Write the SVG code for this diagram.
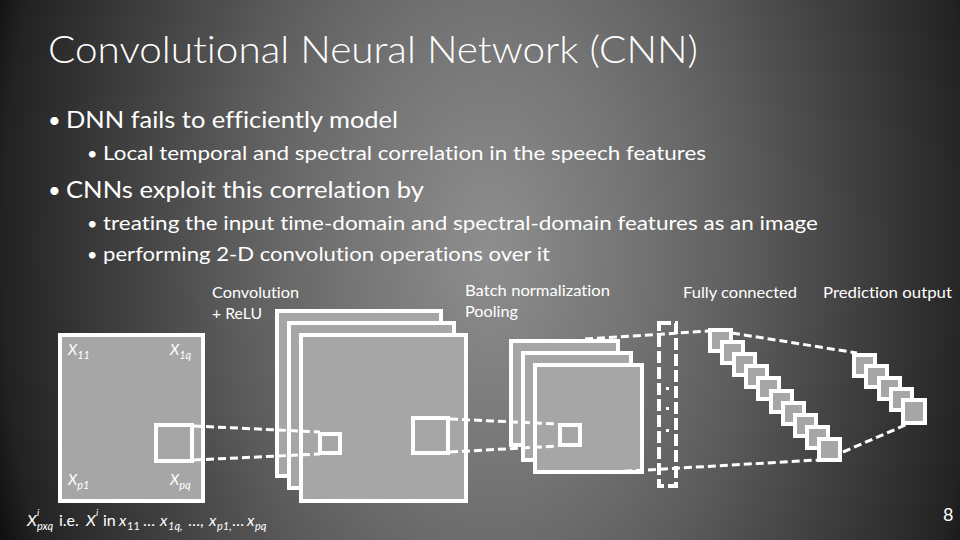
<svg xmlns="http://www.w3.org/2000/svg" width="960" height="540" viewBox="0 0 960 540">
<defs>
<radialGradient id="bg" gradientUnits="userSpaceOnUse" cx="0" cy="0" r="520" gradientTransform="translate(490 250) scale(1 1.6)">
<stop offset="0" stop-color="#8e8e8e"/>
<stop offset="0.3" stop-color="#727272"/>
<stop offset="0.48" stop-color="#5e5e5e"/>
<stop offset="0.63" stop-color="#4a4a4a"/>
<stop offset="0.81" stop-color="#333333"/>
<stop offset="0.94" stop-color="#222222"/>
<stop offset="1" stop-color="#101010"/>
</radialGradient>
<style>
.t{font-family:Lato,"Liberation Sans",sans-serif;fill:#ffffff;font-variant-ligatures:none}
.it{font-style:italic}
.box{fill:#a6a6a6;stroke:#ffffff;stroke-width:4}
.node{fill:#a6a6a6;stroke:#ffffff;stroke-width:4}
.dash{fill:none;stroke:#ffffff;stroke-width:3;stroke-dasharray:8 4}
.vdash{fill:none;stroke:#ffffff;stroke-width:4;stroke-dasharray:12 4}
</style>
</defs>
<rect x="0" y="0" width="960" height="540" fill="url(#bg)"/>

<g id="title">
<text class="t" x="48" y="63" font-size="38" font-weight="300" textLength="650" lengthAdjust="spacingAndGlyphs">Convolutional Neural Network (CNN)</text>
</g>
<g id="bullets">
<text class="t" x="48" y="128" font-size="22">•</text>
<text class="t" x="66" y="128" font-size="23" textLength="332" lengthAdjust="spacingAndGlyphs">DNN fails to efficiently model</text>
<text class="t" x="87" y="160" font-size="18">•</text>
<text class="t" x="103" y="160" font-size="19" textLength="603" lengthAdjust="spacingAndGlyphs">Local temporal and spectral correlation in the speech features</text>
<text class="t" x="48" y="198" font-size="22">•</text>
<text class="t" x="66" y="198" font-size="23" textLength="358" lengthAdjust="spacingAndGlyphs">CNNs exploit this correlation by</text>
<text class="t" x="87" y="230" font-size="18">•</text>
<text class="t" x="103" y="230" font-size="19" textLength="715" lengthAdjust="spacingAndGlyphs">treating the input time-domain and spectral-domain features as an image</text>
<text class="t" x="87" y="261" font-size="18">•</text>
<text class="t" x="103" y="261" font-size="19" textLength="447" lengthAdjust="spacingAndGlyphs">performing 2-D convolution operations over it</text>
</g>

<g id="labels">
<text class="t" x="212" y="298" font-size="15" textLength="87" lengthAdjust="spacingAndGlyphs">Convolution</text>
<text class="t" x="212" y="319" font-size="15" textLength="50" lengthAdjust="spacingAndGlyphs">+ ReLU</text>
<text class="t" x="465" y="296" font-size="15" textLength="145" lengthAdjust="spacingAndGlyphs">Batch normalization</text>
<text class="t" x="465" y="317" font-size="15" textLength="53" lengthAdjust="spacingAndGlyphs">Pooling</text>
<text class="t" x="683" y="298" font-size="15" textLength="114" lengthAdjust="spacingAndGlyphs">Fully connected</text>
<text class="t" x="823" y="298" font-size="15" textLength="129" lengthAdjust="spacingAndGlyphs">Prediction output</text>
</g>

<g id="input">
<rect class="box" x="60" y="335" width="143" height="166"/>
<rect class="box" x="156" y="425" width="36" height="36"/>
<text class="t it" x="68" y="355" font-size="15">X<tspan font-size="11" dy="4">11</tspan></text>
<text class="t it" x="170" y="355" font-size="15">X<tspan font-size="11" dy="4">1q</tspan></text>
<text class="t it" x="68" y="485" font-size="15">X<tspan font-size="11" dy="4">p1</tspan></text>
<text class="t it" x="170" y="485" font-size="15">X<tspan font-size="11" dy="4">pq</tspan></text>
</g>

<g id="conv">
<rect class="box" x="277" y="311" width="164" height="165"/>
<rect class="box" x="289" y="323" width="165" height="165"/>
<rect class="box" x="301" y="335" width="165" height="166"/>
<rect class="box" x="320" y="434" width="20" height="19"/>
<rect class="box" x="413" y="418" width="35" height="35"/>
</g>

<g id="pool">
<rect class="box" x="511" y="341" width="107" height="104"/>
<rect class="box" x="523" y="353" width="108" height="107"/>
<rect class="box" x="535" y="365" width="107" height="107"/>
<rect class="box" x="560" y="425" width="20" height="20"/>
</g>

<g id="flatten">
<rect class="vdash" x="659" y="323" width="17" height="163"/>
<rect x="666" y="387" width="3" height="3" fill="#ffffff"/>
<rect x="666" y="407" width="3" height="3" fill="#ffffff"/>
<rect x="666" y="429" width="3" height="3" fill="#ffffff"/>
</g>

<g id="connectors">
<line class="dash" x1="194" y1="426" x2="320" y2="432"/>
<line class="dash" x1="194" y1="460" x2="320" y2="454"/>
<line class="dash" x1="450" y1="419" x2="558" y2="424"/>
<line class="dash" x1="450" y1="452" x2="558" y2="446"/>
<line class="dash" x1="585" y1="339" x2="710" y2="331"/>
<line class="dash" x1="612" y1="472" x2="818" y2="460"/>
<line class="dash" x1="732" y1="333" x2="857" y2="353"/>
<line class="dash" x1="843" y1="452" x2="910" y2="423"/>
</g>

<g id="fc">
<rect class="node" x="710" y="330" width="21" height="21"/>
<rect class="node" x="722" y="342" width="21" height="21"/>
<rect class="node" x="734" y="354" width="21" height="21"/>
<rect class="node" x="746" y="366" width="21" height="21"/>
<rect class="node" x="758" y="378" width="21" height="21"/>
<rect class="node" x="771" y="391" width="21" height="21"/>
<rect class="node" x="783" y="403" width="21" height="21"/>
<rect class="node" x="795" y="415" width="21" height="21"/>
<rect class="node" x="807" y="427" width="21" height="21"/>
<rect class="node" x="819" y="439" width="21" height="21"/>
</g>

<g id="output">
<rect class="node" x="854" y="355" width="21" height="21"/>
<rect class="node" x="866" y="366" width="21" height="21"/>
<rect class="node" x="879" y="378" width="21" height="21"/>
<rect class="node" x="891" y="389" width="21" height="21"/>
<rect class="node" x="903" y="400" width="22" height="23"/>
</g>

<g id="caption">
<text class="t" y="526" font-size="16"><tspan class="it" x="27">X</tspan><tspan class="it" font-size="10" x="37" y="516">i</tspan><tspan class="it" font-size="11" x="37" y="530">pxq</tspan><tspan x="59" y="526">i.e. </tspan><tspan class="it" x="86" y="526">X</tspan><tspan class="it" font-size="10" x="96" y="516">i</tspan><tspan x="103" y="526">in </tspan><tspan class="it" x="119" y="526">x</tspan><tspan font-size="11" x="127" y="530">11</tspan><tspan x="143" y="526">…</tspan><tspan class="it" x="160" y="526">x</tspan><tspan class="it" font-size="11" x="168" y="530">1q,</tspan><tspan x="188" y="526">…,</tspan><tspan class="it" x="209" y="526">x</tspan><tspan class="it" font-size="11" x="217" y="530">p1,</tspan><tspan x="232" y="526">…</tspan><tspan class="it" x="247" y="526">x</tspan><tspan class="it" font-size="11" x="255" y="530">pq</tspan></text>
</g>

<g id="page-number">
<text class="t" x="943" y="521" font-size="18">8</text>
</g>
</svg>
